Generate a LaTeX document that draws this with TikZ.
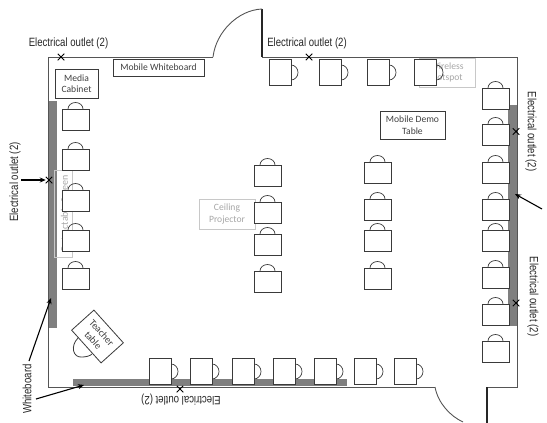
\documentclass[tikz,border=0pt]{standalone}
\usepackage{fontspec}
\setmainfont{Carlito}
\newfontfamily\narrowf[FakeStretch=0.8]{Liberation Sans}
\usetikzlibrary{arrows.meta,shapes.misc}
\definecolor{wallc}{HTML}{555555}
\definecolor{barc}{HTML}{7F7F7F}
\definecolor{inkc}{HTML}{3A3A3A}
\definecolor{fadec}{HTML}{C8C8C8}
\definecolor{fadetxt}{HTML}{A6A6A6}
\tikzset{
  wall/.style={draw=wallc,line width=0.9pt},
  thickwall/.style={draw=black!85,line width=1.5pt},
  bar/.style={fill=barc,draw=none},
  deskbox/.style={draw=inkc,fill=white,line width=0.9pt,minimum width=27pt,minimum height=21.5pt,inner sep=0pt,outer sep=0pt,anchor=north west},
  mugbox/.style={draw=inkc,fill=white,line width=0.9pt,minimum width=22pt,minimum height=26.5pt,inner sep=0pt,outer sep=0pt,anchor=north west},
  handle/.style={draw=inkc,line width=0.7pt},
  label/.style={draw=inkc,fill=white,line width=0.8pt,inner sep=0pt,outer sep=0pt,align=center,font=\fontsize{9.6}{11.5}\selectfont,text=black!75},
  faded/.style={draw=fadec,line width=0.8pt,inner sep=0pt,outer sep=0pt,align=center,font=\fontsize{9.6}{11.5}\selectfont,text=fadetxt},
  hand/.style={font=\narrowf\fontsize{12}{14}\selectfont,text=black!85,inner sep=0pt},
  outlet/.style={draw=black,line width=0.9pt,cross out,minimum size=6.5pt,inner sep=0pt,outer sep=0pt},
  arrow/.style={draw=black,line width=1.1pt,-{Stealth[length=6pt,width=5pt]}},
}
\newcommand{\desk}[3]{\node[deskbox] (#1) at (#2,#3) {};
  \draw[handle] ([xshift=-7.5pt]#1.north) arc[start angle=180,end angle=0,x radius=7.5pt,y radius=6.5pt];}
\newcommand{\mug}[3]{\draw[handle] (#2+22,#3+6) arc[start angle=90,end angle=-90,x radius=7pt,y radius=7.5pt];
  \node[mugbox] (#1) at (#2,#3) {};}
\newcommand{\xmark}[3]{\node[outlet] (#1) at (#2,#3) {};}
\begin{document}
\begin{tikzpicture}[x=1pt,y=-1pt]
\useasboundingbox (0,0) rectangle (547,423);
% gray bars
\fill[bar] (48,101) rectangle (57,328);
\fill[bar] (508,105) rectangle (517,326);
\fill[bar] (73,379) rectangle (347,386);
% walls
\coordinate (dooraT) at (262,9);
\coordinate (dooraB) at (262,57);
\coordinate (doorbT) at (487,387);
\coordinate (doorbB) at (487,423);
\draw[wall] (213,57) -- (48,57) -- (48,387) -- (435,387);
\draw[wall] (dooraB) -- (517,57) -- (517,387) -- (doorbT);
\draw[thickwall] (dooraT) -- (dooraB);
\draw[thickwall] (doorbT) -- (doorbB);
\draw[wall] (213,57) .. controls (216,32) and (238,10) .. (dooraT);
\draw[wall] (435,387) .. controls (438,403) and (450,416) .. (463,422);
% labelled boxes
\node[faded,minimum width=56pt,minimum height=29pt,anchor=north west] (hotspot) at (419,58) {Wireless\\Hotspot};
\node[faded,minimum width=56pt,minimum height=30pt,anchor=north west] (projector) at (199,199) {Ceiling\\Projector};
\node[faded,minimum width=18pt,minimum height=87pt,anchor=north west] (screenbox) at (54,170) {};
\node[text=fadetxt,font=\fontsize{10}{11}\selectfont,rotate=90,inner sep=0pt] (screen) at (64.5,213) {Retractable Screen};
\node[label,minimum width=43pt,minimum height=29pt,anchor=north west] (media) at (55,69) {Media\\Cabinet};
\node[label,minimum width=91pt,minimum height=17pt,anchor=north west] (mobilewb) at (113,59) {Mobile Whiteboard};
\node[label,minimum width=65pt,minimum height=28pt,anchor=north west] (demo) at (380,111) {Mobile Demo\\Table};
% desks: left column
\desk{la}{62}{109}\desk{lb}{62}{149}\desk{lc}{62}{190}\desk{ld}{62}{230}\desk{le}{62}{268}
% desks: middle columns
\desk{ma}{254}{165}\desk{mb}{254}{202}\desk{mc}{254}{234}\desk{md}{254}{271}
\desk{na}{364}{162}\desk{nb}{364}{199}\desk{nc}{364}{230}\desk{nd}{364}{268}
% desks: right column
\desk{ra}{482}{88}\desk{rb}{482}{124}\desk{rc}{482}{162}\desk{rd}{482}{199}
\desk{re}{482}{230}\desk{rf}{482}{267}\desk{rg}{482}{304}\desk{rh}{482}{341}
% mugs: top row
\mug{ta}{269}{59}\mug{tb}{319}{59}\mug{tc}{367}{59}\mug{td}{414}{59}
% mugs: bottom row
\mug{ba}{149}{358}\mug{bb}{190}{358}\mug{bc}{232}{358}\mug{bd}{273}{358}
\mug{be}{314}{358}\mug{bf}{354}{358}\mug{bg}{394}{358}
% teacher table
\draw[handle,line width=0.8pt] (78,338) .. controls (70,346) and (73,358) .. (82,357) .. controls (86,357) and (90,356) .. (92,354);
\node[label,rotate=-48,minimum width=44pt,minimum height=30pt,font=\fontsize{10}{11.5}\selectfont] (teacher) at (97.5,336.5) {Teacher\\table};
% outlets
\xmark{xa}{61}{57}
\xmark{xb}{309}{57}
\xmark{xc}{49}{180}
\xmark{xd}{516}{131.5}
\xmark{xe}{516}{303}
\xmark{xf}{180}{389}
% hand labels
\node[hand] (ta1) at (68.5,43) {Electrical outlet (2)};
\node[hand] (ta2) at (307,43) {Electrical outlet (2)};
\node[hand,rotate=90] (ta3) at (15,182) {Electrical outlet (2)};
\node[hand,rotate=-90] (ta4) at (531,131.5) {Electrical outlet (2)};
\node[hand,rotate=-90] (ta5) at (533,296.5) {Electrical outlet (2)};
\node[hand,rotate=180] (ta6) at (181,400) {Electrical outlet (2)};
\node[hand,rotate=90] (wb) at (27,389) {Whiteboard};
% arrows
\coordinate (aL) at (21,180);
\coordinate (aR) at (542,209);
\coordinate (aRt) at (515,194);
\coordinate (aW1) at (29,361);
\coordinate (aW1t) at (51,298);
\coordinate (aW2) at (36,399);
\coordinate (aW2t) at (84,385);
\draw[arrow] (aL) -- (xc.west);
\draw[arrow] (aR) -- (aRt);
\draw[arrow] (aW1) -- (aW1t);
\draw[arrow] (aW2) -- (aW2t);
\end{tikzpicture}
\end{document}
